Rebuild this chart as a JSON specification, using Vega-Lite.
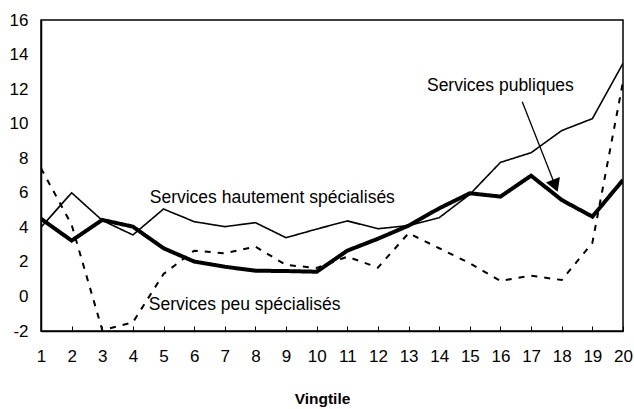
{
  "$schema": "https://vega.github.io/schema/vega-lite/v6.json",
  "width": 582,
  "height": 311,
  "autosize": "none",
  "padding": {"left": 41, "top": 20, "right": 12, "bottom": 78},
  "background": "white",
  "config": {
    "view": {"stroke": "black", "strokeWidth": 1.5},
    "font": "Liberation Sans",
    "axis": {"grid": false, "domainColor": "black", "domainWidth": 1.5, "tickColor": "black", "tickWidth": 1, "labelColor": "black", "labelFont": "Liberation Sans", "labelFontSize": 17, "titleColor": "black", "labelOverlap": false, "labelSeparation": 0},
    "axisX": {"labelOverlap": false},
    "axisY": {"labelOverlap": false}
  },
  "datasets": {
    "series": [
      {"serie": "hautement", "vingtile": 1, "valeur": 4.0},
      {"serie": "hautement", "vingtile": 2, "valeur": 6.0},
      {"serie": "hautement", "vingtile": 3, "valeur": 4.4},
      {"serie": "hautement", "vingtile": 4, "valeur": 3.56},
      {"serie": "hautement", "vingtile": 5, "valeur": 5.06},
      {"serie": "hautement", "vingtile": 6, "valeur": 4.33},
      {"serie": "hautement", "vingtile": 7, "valeur": 4.04},
      {"serie": "hautement", "vingtile": 8, "valeur": 4.27},
      {"serie": "hautement", "vingtile": 9, "valeur": 3.4},
      {"serie": "hautement", "vingtile": 10, "valeur": 3.9},
      {"serie": "hautement", "vingtile": 11, "valeur": 4.37},
      {"serie": "hautement", "vingtile": 12, "valeur": 3.92},
      {"serie": "hautement", "vingtile": 13, "valeur": 4.1},
      {"serie": "hautement", "vingtile": 14, "valeur": 4.56},
      {"serie": "hautement", "vingtile": 15, "valeur": 5.91},
      {"serie": "hautement", "vingtile": 16, "valeur": 7.76},
      {"serie": "hautement", "vingtile": 17, "valeur": 8.32},
      {"serie": "hautement", "vingtile": 18, "valeur": 9.6},
      {"serie": "hautement", "vingtile": 19, "valeur": 10.29},
      {"serie": "hautement", "vingtile": 20, "valeur": 13.49},
      {"serie": "publiques", "vingtile": 1, "valeur": 4.5},
      {"serie": "publiques", "vingtile": 2, "valeur": 3.23},
      {"serie": "publiques", "vingtile": 3, "valeur": 4.43},
      {"serie": "publiques", "vingtile": 4, "valeur": 4.04},
      {"serie": "publiques", "vingtile": 5, "valeur": 2.79},
      {"serie": "publiques", "vingtile": 6, "valeur": 2.02},
      {"serie": "publiques", "vingtile": 7, "valeur": 1.72},
      {"serie": "publiques", "vingtile": 8, "valeur": 1.49},
      {"serie": "publiques", "vingtile": 9, "valeur": 1.47},
      {"serie": "publiques", "vingtile": 10, "valeur": 1.43},
      {"serie": "publiques", "vingtile": 11, "valeur": 2.65},
      {"serie": "publiques", "vingtile": 12, "valeur": 3.34},
      {"serie": "publiques", "vingtile": 13, "valeur": 4.1},
      {"serie": "publiques", "vingtile": 14, "valeur": 5.1},
      {"serie": "publiques", "vingtile": 15, "valeur": 5.97},
      {"serie": "publiques", "vingtile": 16, "valeur": 5.78},
      {"serie": "publiques", "vingtile": 17, "valeur": 6.99},
      {"serie": "publiques", "vingtile": 18, "valeur": 5.58},
      {"serie": "publiques", "vingtile": 19, "valeur": 4.62},
      {"serie": "publiques", "vingtile": 20, "valeur": 6.74},
      {"serie": "peu", "vingtile": 1, "valeur": 7.42},
      {"serie": "peu", "vingtile": 2, "valeur": 4.15},
      {"serie": "peu", "vingtile": 3, "valeur": -1.95},
      {"serie": "peu", "vingtile": 4, "valeur": -1.5},
      {"serie": "peu", "vingtile": 5, "valeur": 1.3},
      {"serie": "peu", "vingtile": 6, "valeur": 2.65},
      {"serie": "peu", "vingtile": 7, "valeur": 2.5},
      {"serie": "peu", "vingtile": 8, "valeur": 2.88},
      {"serie": "peu", "vingtile": 9, "valeur": 1.82},
      {"serie": "peu", "vingtile": 10, "valeur": 1.65},
      {"serie": "peu", "vingtile": 11, "valeur": 2.3},
      {"serie": "peu", "vingtile": 12, "valeur": 1.67},
      {"serie": "peu", "vingtile": 13, "valeur": 3.66},
      {"serie": "peu", "vingtile": 14, "valeur": 2.79},
      {"serie": "peu", "vingtile": 15, "valeur": 1.92},
      {"serie": "peu", "vingtile": 16, "valeur": 0.9},
      {"serie": "peu", "vingtile": 17, "valeur": 1.2},
      {"serie": "peu", "vingtile": 18, "valeur": 0.95},
      {"serie": "peu", "vingtile": 19, "valeur": 3.1},
      {"serie": "peu", "vingtile": 20, "valeur": 12.43}
    ],
    "notes": [
      {"label": "Services hautement spécialisés", "vingtile": 4.55, "valeur": 5.41},
      {"label": "Services peu spécialisés", "vingtile": 4.52, "valeur": -0.81},
      {"label": "Services publiques", "vingtile": 13.6, "valeur": 11.89}
    ],
    "fleche": [
      {"x1": 16.71, "y1": 11.27, "x2": 17.79, "y2": 6.41}
    ]
  },
  "layer": [
    {
      "data": {"name": "series"},
      "mark": {"type": "line", "color": "black", "strokeJoin": "miter", "clip": true},
      "encoding": {
        "x": {
          "field": "vingtile", "type": "quantitative",
          "scale": {"domain": [1, 20], "nice": false, "zero": false},
          "axis": {"values": [1,2,3,4,5,6,7,8,9,10,11,12,13,14,15,16,17,18,19,20], "tickCount": 20, "labelOverlap": false, "ticks": true, "tickSize": -5, "labelPadding": 22, "title": "Vingtile", "titleFontSize": 15.5, "titleFontWeight": "bold", "titlePadding": 27, "titleX": 281, "labelFlush": false}
        },
        "y": {
          "field": "valeur", "type": "quantitative",
          "scale": {"domain": [-2, 16], "nice": false, "zero": false},
          "axis": {"values": [-2,0,2,4,6,8,10,12,14,16], "tickCount": 10, "labelOverlap": false, "labelExpr": "replace(datum.label, '−', '-')", "ticks": false, "labelPadding": 13, "title": null, "labelFlush": false}
        },
        "detail": {"field": "serie"},
        "strokeWidth": {"field": "serie", "type": "nominal", "scale": {"type": "ordinal", "domain": ["hautement", "publiques", "peu"], "range": [1.6, 4, 2]}, "legend": null},
        "strokeDash": {"field": "serie", "type": "nominal", "scale": {"domain": ["hautement", "publiques", "peu"], "range": [[1, 0], [1, 0], [6, 7]]}, "legend": null}
      }
    },
    {
      "data": {"name": "notes"},
      "mark": {"type": "text", "align": "left", "baseline": "alphabetic", "fontSize": 17.5, "font": "Liberation Sans", "color": "black"},
      "encoding": {
        "x": {"field": "vingtile", "type": "quantitative"},
        "y": {"field": "valeur", "type": "quantitative"},
        "text": {"field": "label"}
      }
    },
    {
      "data": {"name": "fleche"},
      "mark": {"type": "rule", "color": "black", "strokeWidth": 1.3},
      "encoding": {
        "x": {"field": "x1", "type": "quantitative"},
        "y": {"field": "y1", "type": "quantitative"},
        "x2": {"field": "x2"},
        "y2": {"field": "y2"}
      }
    },
    {
      "data": {"name": "fleche"},
      "mark": {"type": "point", "shape": "triangle-up", "filled": true, "color": "black", "opacity": 1, "size": 225, "angle": 158.5},
      "encoding": {
        "x": {"field": "x2", "type": "quantitative"},
        "y": {"field": "y2", "type": "quantitative"}
      }
    }
  ]
}
